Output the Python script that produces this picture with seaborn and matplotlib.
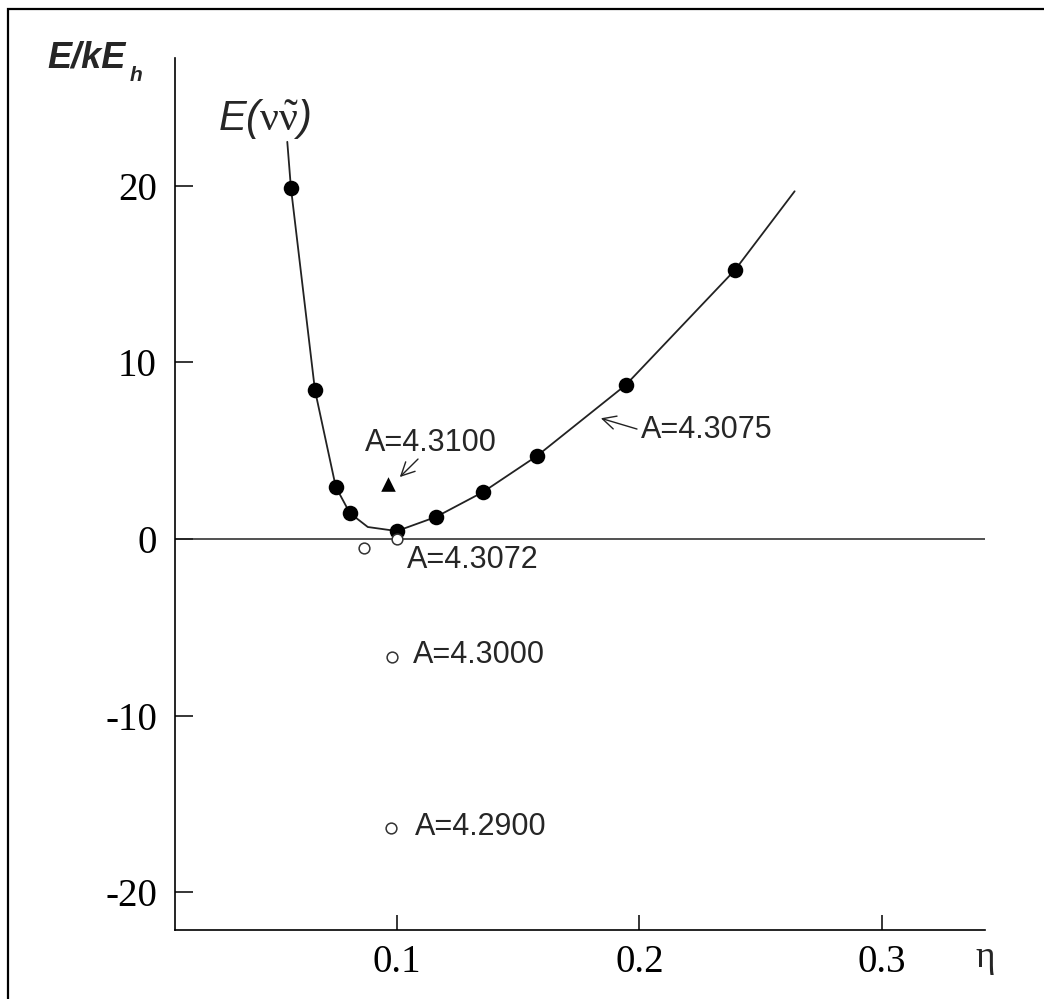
import matplotlib
matplotlib.use("Agg")
import matplotlib.pyplot as plt
import seaborn as sns
import pandas as pd
from matplotlib.patches import Rectangle

# ---- data ----
curve_eta = [0.0548, 0.0563, 0.0662, 0.0748, 0.0806, 0.0880, 0.1000, 0.1161, 0.1355, 0.1577, 0.1944, 0.2394, 0.2640]
curve_E = [22.5, 19.9, 8.44, 2.95, 1.47, 0.68, 0.45, 1.25, 2.66, 4.70, 8.73, 15.24, 19.7]

filled_eta = [0.0563, 0.0662, 0.0748, 0.0806, 0.1000, 0.1161, 0.1355, 0.1577, 0.1944, 0.2394]
filled_E = [19.9, 8.44, 2.95, 1.47, 0.45, 1.25, 2.66, 4.70, 8.73, 15.24]

open_eta = [0.0864, 0.1000, 0.0980, 0.0975]
open_E = [-0.5, -0.02, -6.69, -16.37]

tri_eta = [0.0963]
tri_E = [3.1]

labels_A = ["A=4.3100", "A=4.3075", "A=4.3072", "A=4.3000", "A=4.2900"]
yticks = [-20, -10, 0, 10, 20]
ytick_labels = ["-20", "-10", "0", "10", "20"]
xticks = [0.1, 0.2, 0.3]
xtick_labels = ["0.1", "0.2", "0.3"]

sns.set_style("ticks")
plt.rcParams["font.family"] = ["Liberation Sans", "DejaVu Sans"]
plt.rcParams["axes.unicode_minus"] = False
plt.rcParams["mathtext.fontset"] = "custom"
plt.rcParams["mathtext.rm"] = "Liberation Serif"
plt.rcParams["mathtext.it"] = "Liberation Serif:italic"

W, H = 1044, 999
fig = plt.figure(figsize=(W / 100, H / 100), dpi=100)
fig.patch.set_facecolor("white")
ax = fig.add_axes([175 / W, 1 - 930 / H, (985 - 175) / W, (930 - 58) / H])
ax.set_facecolor("white")

curve_df = pd.DataFrame({"eta": curve_eta, "E": curve_E})
sns.lineplot(data=curve_df, x="eta", y="E", sort=False, estimator=None,
             color="#222222", lw=1.3, ax=ax)

sns.scatterplot(x=filled_eta, y=filled_E, color="black", s=125, marker="o",
                edgecolor="black", linewidth=0, ax=ax, zorder=3)
sns.scatterplot(x=open_eta, y=open_E, facecolor="white", s=60, marker="o",
                edgecolor="#333333", linewidth=1.1, ax=ax, zorder=3)
sns.scatterplot(x=tri_eta, y=tri_E, color="black", s=110, marker="^",
                edgecolor="black", linewidth=0, ax=ax, zorder=3)

ax.axhline(0, color="#222222", lw=1.1, zorder=1)

ax.set_xlim(0.0085, 0.3425)
ax.set_ylim(-22.15, 27.25)
ax.set_xticks(xticks)
ax.set_xticklabels(xtick_labels)
ax.set_yticks(yticks)
ax.set_yticklabels(ytick_labels)
for lab in ax.get_xticklabels() + ax.get_yticklabels():
    lab.set_family("Liberation Serif")
    lab.set_fontsize(28)
ax.tick_params(axis="y", direction="in", length=13, width=1.1, pad=13, colors="black")
ax.tick_params(axis="x", direction="in", length=11, width=1.1, pad=10, colors="black")
ax.set_xlabel("")
ax.set_ylabel("")
for s in ["top", "right"]:
    ax.spines[s].set_visible(False)
for s in ["left", "bottom"]:
    ax.spines[s].set_color("black")
    ax.spines[s].set_linewidth(1.2)

# annotations
afs = 22
arrow_kw = dict(arrowstyle="->", lw=1.0, color="#222222", mutation_scale=24,
                shrinkA=0, shrinkB=0)
ax.text(0.0868, 5.44, labels_A[0], fontsize=afs, va="center", ha="left")
ax.annotate("", xy=(0.1012, 3.51), xytext=(0.1087, 4.53), arrowprops=arrow_kw)
ax.text(0.2006, 6.18, labels_A[1], fontsize=afs, va="center", ha="left")
ax.annotate("", xy=(0.1841, 6.84), xytext=(0.1990, 6.23), arrowprops=arrow_kw)
ax.text(0.1041, -1.19, labels_A[2], fontsize=afs, va="center", ha="left")
ax.text(0.1066, -6.57, labels_A[3], fontsize=afs, va="center", ha="left")
ax.text(0.1074, -16.3, labels_A[4], fontsize=afs, va="center", ha="left")

fig.text(218 / W, 1 - 130 / H, r"E($\mathrm{\nu}\tilde{\mathrm{\nu}}$)", fontsize=30,
         style="italic", va="baseline", ha="left")

# axis titles
fig.text(47 / W, 1 - 67 / H, "E/kE", fontsize=26, weight="bold", style="italic",
         va="baseline", ha="left")
fig.text(130 / W, 1 - 81 / H, "h", fontsize=15, weight="bold", style="italic",
         va="baseline", ha="left")
fig.text(985 / W, 1 - 958 / H, "η", fontsize=27, family="Liberation Serif",
         va="center", ha="center")

# outer frame (right and bottom edges fall outside the image)
fig.patches.append(Rectangle((8 / W, -20 / H), (1080 - 8) / W, (990 + 20) / H,
                             transform=fig.transFigure, fill=False, lw=1.6,
                             edgecolor="black"))

fig.savefig("out.png", dpi=100, facecolor="white")
